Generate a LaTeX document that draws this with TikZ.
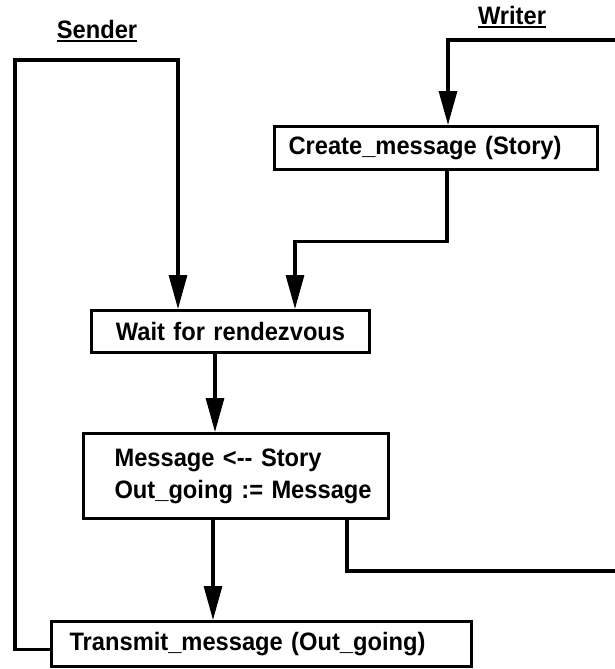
\documentclass[tikz,border=0pt]{standalone}
\usepackage{fontspec}
\setmainfont{Liberation Sans}
\newfontfamily\diagfont{Liberation Sans}[BoldFeatures={FakeStretch=0.94}]
\usetikzlibrary{arrows.meta}
\newcommand\ulab[1]{\setbox0\hbox{#1}\rlap{\rule[-3pt]{\wd0}{2.4pt}}\box0}
\tikzset{
  every node/.style={font=\diagfont\bfseries\fontsize{25.2}{32}\selectfont},
  box/.style={draw, line width=3.1pt, anchor=north west, inner xsep=0pt, inner ysep=0pt, align=left},
  wire/.style={line width=3.1pt},
  arr/.style={wire, -{Triangle[length=34pt,width=18pt]}},
}
\begin{document}
\begin{tikzpicture}[x=1pt,y=-1pt]
\useasboundingbox (0,0) rectangle (614,669);
\fill[white] (0,0) rectangle (614,669);

% labels
\node[anchor=base] (sender) at (97,39) {\ulab{Sender}};
\node[anchor=base] (writer) at (512,25) {\ulab{Writer}};

% boxes
\node[box, text width=323pt, minimum height=43pt] (create) at (273,125)
  {\hspace*{14pt}Create\_message (Story)};
\node[box, text width=278pt, minimum height=42pt, align=center] (wait) at (90,309)
  {Wait for rendezvous};
\node[box, text width=305pt, minimum height=85pt] (message) at (82,432)
  {\hspace*{31pt}Message <-{}- Story\\\hspace*{31pt}Out\_going := Message};
\node[box, text width=420pt, minimum height=45pt] (transmit) at (50,620)
  {\hspace*{18pt}Transmit\_message (Out\_going)};

% free ends and corners
\coordinate (wtop) at (620,40);
\coordinate (wbot) at (620,571);
\coordinate (sendtl) at (15,60);

% connectors
\draw[arr] (wtop) -| ([xshift=175pt]create.north west);
\draw[arr] ([xshift=174pt]create.south west) -- ++(0,70) -| ([xshift=205pt]wait.north west);
\draw[arr] ([yshift=-5pt]transmit.west) -| (sendtl) -| ([xshift=88pt]wait.north west);
\draw[arr] ([xshift=125pt]wait.south west) -- ([xshift=125pt]wait.south west |- message.north);
\draw[arr] ([xshift=131pt]message.south west) -- ([xshift=131pt]message.south west |- transmit.north);
\draw[wire] ([xshift=265pt]message.south west) |- (wbot);
\end{tikzpicture}
\end{document}
